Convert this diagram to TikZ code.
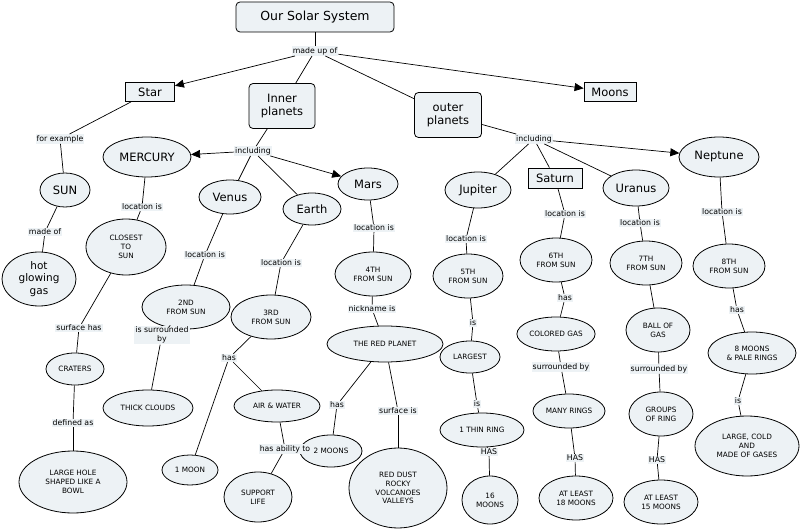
\documentclass[tikz,border=0pt]{standalone}
\usepackage{fontspec}
\setmainfont{DejaVu Sans}
\usetikzlibrary{shapes.geometric,arrows.meta}
\definecolor{cfill}{HTML}{EDF2F5}
\begin{document}
\begin{tikzpicture}[x=1pt,y=-1pt,
 base/.style={draw=black,fill=cfill,line width=0.8pt,align=center,inner sep=1pt},
 el/.style={base,ellipse,minimum width=#1},
 big/.style={font=\fontsize{11.5}{13.5}\selectfont},
 med/.style={font=\fontsize{10.5}{12.5}\selectfont},
 sm/.style={font=\fontsize{7.3}{8.8}\selectfont},
 lab/.style={fill=cfill,inner sep=1pt,align=center,font=\fontsize{7.8}{9.3}\selectfont},
 cn/.style={line width=0.7pt},
 ar/.style={cn,-{Triangle[length=9pt,width=8pt]}}]
\useasboundingbox (0,0) rectangle (801,532);
% main nodes
\node[base,rounded corners=4pt,minimum width=158pt,minimum height=30pt,font=\fontsize{12.5}{14}\selectfont] (title) at (315,17) {Our Solar System};
\node[base,minimum width=49pt,minimum height=19pt,big] (star) at (150,92) {Star};
\node[base,rounded corners=4pt,minimum width=66pt,minimum height=45pt,big] (inner) at (282,106) {Inner\\planets};
\node[base,rounded corners=4pt,minimum width=67pt,minimum height=45pt,big] (outer) at (448,115) {outer\\planets};
\node[base,minimum width=52pt,minimum height=19pt,big] (moons) at (610,92) {Moons};
\node[el=88pt,minimum height=40pt,big] (mercury) at (147,157) {MERCURY};
\node[el=50pt,minimum height=34pt,big] (sun) at (65,190) {SUN};
\node[el=62pt,minimum height=34pt,big] (venus) at (230,197) {Venus};
\node[el=58pt,minimum height=32pt,big] (earth) at (312,209) {Earth};
\node[el=60pt,minimum height=32pt,big] (mars) at (368,184) {Mars};
\node[el=66pt,minimum height=36pt,big] (jupiter) at (478,190) {Jupiter};
\node[base,minimum width=54pt,minimum height=20pt,big] (saturn) at (555,178) {Saturn};
\node[el=66pt,minimum height=36pt,big] (uranus) at (636,188) {Uranus};
\node[el=80pt,minimum height=40pt,big] (neptune) at (719,157) {Neptune};
\node[el=80pt,minimum height=56pt,sm] (closest) at (126,247) {CLOSEST\\TO\\SUN};
\node[el=74pt,minimum height=54pt,med] (hot) at (39,279) {hot\\glowing\\gas};
\node[el=76pt,minimum height=44pt,sm] (th4) at (373,274) {4TH\\FROM SUN};
\node[el=70pt,minimum height=44pt,sm] (th5) at (468,276) {5TH\\FROM SUN};
\node[el=72pt,minimum height=44pt,sm] (th6) at (556,260) {6TH\\FROM SUN};
\node[el=72pt,minimum height=44pt,sm] (th7) at (646,263) {7TH\\FROM SUN};
\node[el=72pt,minimum height=44pt,sm] (th8) at (729,266) {8TH\\FROM SUN};
\node[el=88pt,minimum height=44pt,sm] (nd2) at (186,307) {2ND\\FROM SUN};
\node[el=80pt,minimum height=44pt,sm] (rd3) at (271,317) {3RD\\FROM SUN};
\node[el=116pt,minimum height=36pt,sm] (red) at (385,344) {THE RED PLANET};
\node[el=76pt,minimum height=34pt,sm] (colgas) at (556,334) {COLORED GAS};
\node[el=64pt,minimum height=44pt,sm] (ball) at (658,330) {BALL OF\\GAS};
\node[el=88pt,minimum height=42pt,sm] (m8) at (752,353) {8 MOONS\\\& PALE RINGS};
\node[el=60pt,minimum height=32pt,sm] (largest) at (470,357) {LARGEST};
\node[el=58pt,minimum height=32pt,sm] (craters) at (75,369) {CRATERS};
\node[el=90pt,minimum height=36pt,sm] (thick) at (148,408) {THICK CLOUDS};
\node[el=86pt,minimum height=32pt,sm] (air) at (277,406) {AIR \& WATER};
\node[el=84pt,minimum height=34pt,sm] (thin) at (482,430) {1 THIN RING};
\node[el=72pt,minimum height=34pt,sm] (many) at (569,411) {MANY RINGS};
\node[el=64pt,minimum height=44pt,sm] (groups) at (661,414) {GROUPS\\OF RING};
\node[el=104pt,minimum height=60pt,sm] (lcold) at (747,446) {LARGE, COLD\\AND\\MADE OF GASES};
\node[el=62pt,minimum height=32pt,sm] (m2) at (331,451) {2 MOONS};
\node[el=56pt,minimum height=30pt,sm] (m1) at (190,470) {1 MOON};
\node[el=68pt,minimum height=50pt,sm] (life) at (258,497) {SUPPORT\\LIFE};
\node[el=108pt,minimum height=62pt,sm] (hole) at (73,482) {LARGE HOLE\\SHAPED LIKE A\\BOWL};
\node[el=98pt,minimum height=80pt,sm] (dust) at (398,488) {RED DUST\\ROCKY\\VOLCANOES\\VALLEYS};
\node[el=56pt,minimum height=48pt,sm] (m16) at (490,500) {16\\MOONS};
\node[el=74pt,minimum height=44pt,sm] (m18) at (576,498) {AT LEAST\\18 MOONS};
\node[el=74pt,minimum height=44pt,sm] (m15) at (661,502) {AT LEAST\\15 MOONS};
% labels
\node[lab] (lmade) at (315,51) {made up of};
\node[lab] (lfor) at (60,139) {for example};
\node[lab] (linc1) at (253,151) {including};
\node[lab] (linc2) at (534,139) {including};
\node[lab] (lmadeof) at (45,232) {made of};
\node[lab] (lmer) at (142,207) {location is};
\node[lab] (lven) at (205,255) {location is};
\node[lab] (lear) at (281,263) {location is};
\node[lab] (lmar) at (374,228) {location is};
\node[lab] (ljup) at (466,239) {location is};
\node[lab] (lsat) at (565,214) {location is};
\node[lab] (lura) at (640,223) {location is};
\node[lab] (lnep) at (722,212) {location is};
\node[lab] (lsurf) at (79,328) {surface has};
\node[lab] (lnick) at (372,309) {nickname is};
\node[lab] (lhas6) at (565,298) {has};
\node[lab] (lhas8) at (737,310) {has};
\node[lab] (lis5) at (473,323) {is};
\node[lab] (lisur) at (162,335) {is surrounded\\by};
\node[lab] (lhasE) at (229,358) {has};
\node[lab] (lhasM) at (337,405) {has};
\node[lab] (lsurfis) at (398,411) {surface is};
\node[lab] (lsur6) at (561,367) {surrounded by};
\node[lab] (lsur7) at (659,369) {surrounded by};
\node[lab] (lis8) at (738,401) {is};
\node[lab] (lis1) at (477,404) {is};
\node[lab] (ldef) at (73,423) {defined as};
\node[lab] (labil) at (285,449) {has ability to};
\node[lab] (lHAS5) at (489,452) {HAS};
\node[lab] (lHAS6) at (575,458) {HAS};
\node[lab] (lHAS7) at (657,460) {HAS};
% connectors
\draw[cn] (title) -- (lmade);
\draw[ar] (lmade) -- (star);
\draw[cn] (lmade) -- (inner);
\draw[cn] (lmade) -- (outer);
\draw[ar] (lmade) -- (moons);
\draw[cn] (star) -- (lfor); \draw[cn] (lfor) -- (sun);
\draw[cn] (sun) -- (lmadeof); \draw[cn] (lmadeof) -- (hot);
\draw[cn] (inner) -- (linc1);
\draw[ar] (linc1) -- (mercury);
\draw[ar] (linc1) -- (mars);
\draw[cn] (linc1) -- (venus);
\draw[cn] (linc1) -- (earth);
\draw[cn] (outer) -- (linc2);
\draw[ar] (linc2) -- (neptune);
\draw[cn] (linc2) -- (jupiter);
\draw[cn] (linc2) -- (saturn);
\draw[cn] (linc2) -- (uranus);
\draw[cn] (mercury) -- (lmer); \draw[cn] (lmer) -- (closest);
\draw[cn] (closest) -- (lsurf); \draw[cn] (lsurf) -- (craters);
\draw[cn] (craters) -- (ldef); \draw[cn] (ldef) -- (hole);
\draw[cn] (venus) -- (lven); \draw[cn] (lven) -- (nd2);
\draw[cn] (nd2) -- (lisur); \draw[cn] (lisur) -- (thick);
\draw[cn] (earth) -- (lear); \draw[cn] (lear) -- (rd3);
\draw[cn] (rd3) -- (lhasE); \draw[cn] (lhasE) -- (air); \draw[cn] (lhasE) -- (m1);
\draw[cn] (air) -- (labil); \draw[cn] (labil) -- (life);
\draw[cn] (mars) -- (lmar); \draw[cn] (lmar) -- (th4);
\draw[cn] (th4) -- (lnick); \draw[cn] (lnick) -- (red);
\draw[cn] (red) -- (lhasM); \draw[cn] (lhasM) -- (m2);
\draw[cn] (red) -- (lsurfis); \draw[cn] (lsurfis) -- (dust);
\draw[cn] (jupiter) -- (ljup); \draw[cn] (ljup) -- (th5);
\draw[cn] (th5) -- (lis5); \draw[cn] (lis5) -- (largest);
\draw[cn] (largest) -- (lis1); \draw[cn] (lis1) -- (thin);
\draw[cn] (thin) -- (lHAS5); \draw[cn] (lHAS5) -- (m16);
\draw[cn] (saturn) -- (lsat); \draw[cn] (lsat) -- (th6);
\draw[cn] (th6) -- (lhas6); \draw[cn] (lhas6) -- (colgas);
\draw[cn] (colgas) -- (lsur6); \draw[cn] (lsur6) -- (many);
\draw[cn] (many) -- (lHAS6); \draw[cn] (lHAS6) -- (m18);
\draw[cn] (uranus) -- (lura); \draw[cn] (lura) -- (th7);
\draw[cn] (th7) -- (ball); \draw[cn] (ball) -- (lsur7); \draw[cn] (lsur7) -- (groups);
\draw[cn] (groups) -- (lHAS7); \draw[cn] (lHAS7) -- (m15);
\draw[cn] (neptune) -- (lnep); \draw[cn] (lnep) -- (th8);
\draw[cn] (th8) -- (lhas8); \draw[cn] (lhas8) -- (m8);
\draw[cn] (m8) -- (lis8); \draw[cn] (lis8) -- (lcold);
\end{tikzpicture}
\end{document}
